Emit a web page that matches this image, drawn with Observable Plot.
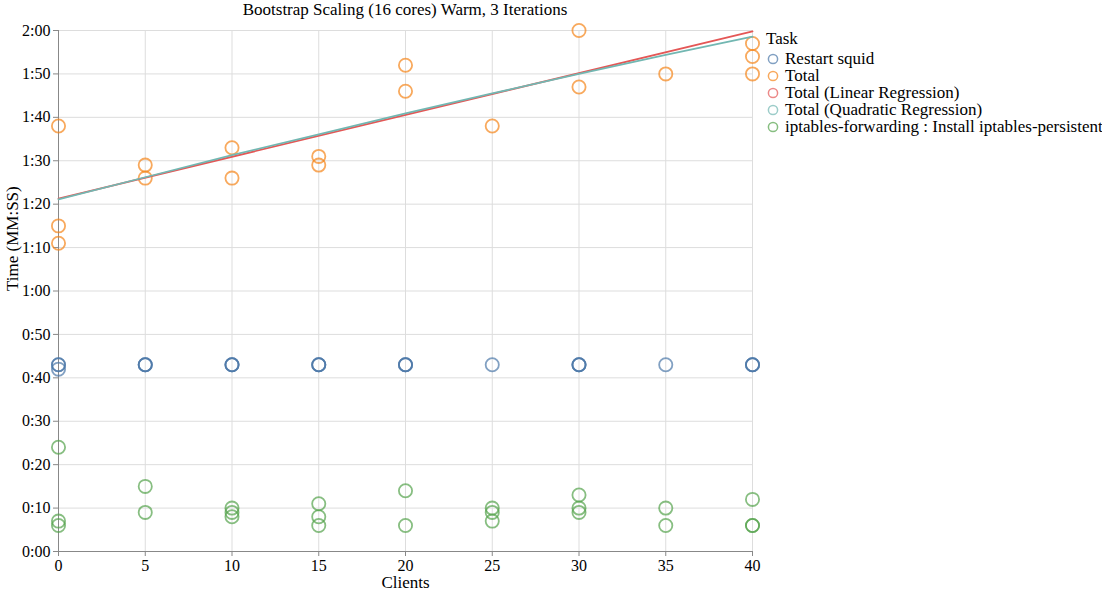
<!DOCTYPE html>
<html>
<head>
<meta charset="utf-8">
<script src="https://cdn.jsdelivr.net/npm/d3@7"></script>
<script src="https://cdn.jsdelivr.net/npm/@observablehq/plot@0.6"></script>
<style>
  body { margin: 0; background: white; }
  #wrap { position: relative; width: 1102px; height: 591px; overflow: hidden; font-family: "Liberation Serif", serif; color: #000; }
  #title { position: absolute; left: 0; width: 810px; top: 0px; text-align: center; font-size: 17px; line-height: 20px; }
  #legend { position: absolute; left: 766px; top: 28px; font-size: 17px; white-space: nowrap; }
  #legend .ttl { height: 22px; line-height: 21px; }
  #legend .row { height: 17px; line-height: 17px; display: flex; align-items: center; }
  #legend svg { margin-right: 6px; margin-left: 1px; }
  #chart { position: absolute; left: 0; top: 0; }
</style>
</head>
<body>
<div id="wrap">
  <div id="chart"></div>
  <div id="title">Bootstrap Scaling (16 cores) Warm, 3 Iterations</div>
  <div id="legend"></div>
</div>
<script>
// ---- data (seconds) ----
const clients = [0, 5, 10, 15, 20, 25, 30, 35, 40];
const yTicks = [0, 10, 20, 30, 40, 50, 60, 70, 80, 90, 100, 110, 120];
const tasks = ["Restart squid", "Total", "Total (Linear Regression)", "Total (Quadratic Regression)", "iptables-forwarding : Install iptables-persistent"];
const colors = ["#4c78a8", "#f58518", "#e45756", "#72b7b2", "#54a24b"];

const squidClients = [0, 0, 0, 5, 5, 5, 10, 10, 10, 15, 15, 15, 20, 20, 20, 25, 30, 30, 30, 35, 40, 40, 40];
const squidTimes   = [43, 43, 42, 43, 43, 43, 43, 43, 43, 43, 43, 43, 43, 43, 43, 43, 43, 43, 43, 43, 43, 43, 43];

const totalClients = [0, 0, 0, 5, 5, 10, 10, 15, 15, 20, 20, 25, 30, 30, 35, 40, 40, 40];
const totalTimes   = [98, 75, 71, 89, 86, 93, 86, 91, 89, 112, 106, 98, 120, 107, 110, 117, 114, 110];

const iptClients = [0, 0, 0, 5, 5, 10, 10, 10, 15, 15, 15, 20, 20, 25, 25, 25, 30, 30, 30, 35, 35, 40, 40, 40];
const iptTimes   = [24, 7, 6, 15, 9, 10, 9, 8, 11, 8, 6, 14, 6, 10, 9, 7, 13, 10, 9, 10, 6, 12, 6, 6];

const linClients = [0, 40];
const linTimes   = [81.3, 119.8];

const quadClients = [0, 5, 10, 15, 20, 25, 30, 35, 40];
const quadTimes   = [81.1, 86.2, 91.3, 96.1, 100.9, 105.5, 110.0, 114.4, 118.6];

// ---- build tables ----
const zip = (xs, ys, task) => xs.map((x, i) => ({clients: x, time: ys[i], task}));
const squid = zip(squidClients, squidTimes, tasks[0]);
const total = zip(totalClients, totalTimes, tasks[1]);
const lin = zip(linClients, linTimes, tasks[2]);
const quad = zip(quadClients, quadTimes, tasks[3]);
const ipt = zip(iptClients, iptTimes, tasks[4]);

const fmt = s => `${Math.floor(s / 60)}:${String(s % 60).padStart(2, "0")}`;
const colorScale = {domain: tasks, range: colors};

const dotOpts = {x: "clients", y: "time", stroke: "task", r: 6.6, strokeWidth: 1.8, strokeOpacity: 0.7, fill: "none"};

const chart = Plot.plot({
  width: 1102,
  height: 591,
  marginLeft: 58,
  marginRight: 350,
  marginTop: 30,
  marginBottom: 40,
  style: {fontFamily: "Liberation Serif, serif", fontSize: "16px", color: "#000", background: "white", overflow: "visible"},
  x: {domain: [0, 40]},
  y: {domain: [0, 120]},
  color: colorScale,
  marks: [
    Plot.gridX(clients, {stroke: "#ddd", strokeOpacity: 1}),
    Plot.gridY(yTicks, {stroke: "#ddd", strokeOpacity: 1}),
    Plot.ruleY([0], {stroke: "#888"}),
    Plot.ruleX([0], {stroke: "#888"}),
    Plot.axisX({ticks: clients, tickSize: 5, stroke: "#888", fill: "#000", tickPadding: 3, fontSize: 16,
      label: null}),
    Plot.axisY({ticks: yTicks, tickFormat: fmt, tickSize: 5, stroke: "#888", fill: "#000", tickPadding: 3, fontSize: 16,
      label: null}),
    Plot.text(["Clients"], {frameAnchor: "bottom", dy: 36, text: d => d, fontSize: 17, fill: "#000"}),
    Plot.text(["Time (MM:SS)"], {frameAnchor: "left", dx: -46, rotate: -90, text: d => d, fontSize: 17, fill: "#000"}),
    Plot.dot(squid, dotOpts),
    Plot.dot(total, dotOpts),
    Plot.dot(ipt, dotOpts),
    Plot.line(lin, {x: "clients", y: "time", stroke: "task", strokeWidth: 1.8}),
    Plot.line(quad, {x: "clients", y: "time", stroke: "task", strokeWidth: 1.8})
  ]
});
document.getElementById("chart").appendChild(chart);

// ---- legend ----
const leg = document.getElementById("legend");
const t = document.createElement("div");
t.className = "ttl";
t.textContent = "Task";
leg.appendChild(t);
tasks.forEach((name, i) => {
  const row = document.createElement("div");
  row.className = "row";
  row.innerHTML = `<svg width="12" height="12"><circle cx="6" cy="6" r="4.6" fill="none" stroke="${colors[i]}" stroke-opacity="0.7" stroke-width="1.5"></circle></svg><span>${name}</span>`;
  leg.appendChild(row);
});
</script>
</body>
</html>
